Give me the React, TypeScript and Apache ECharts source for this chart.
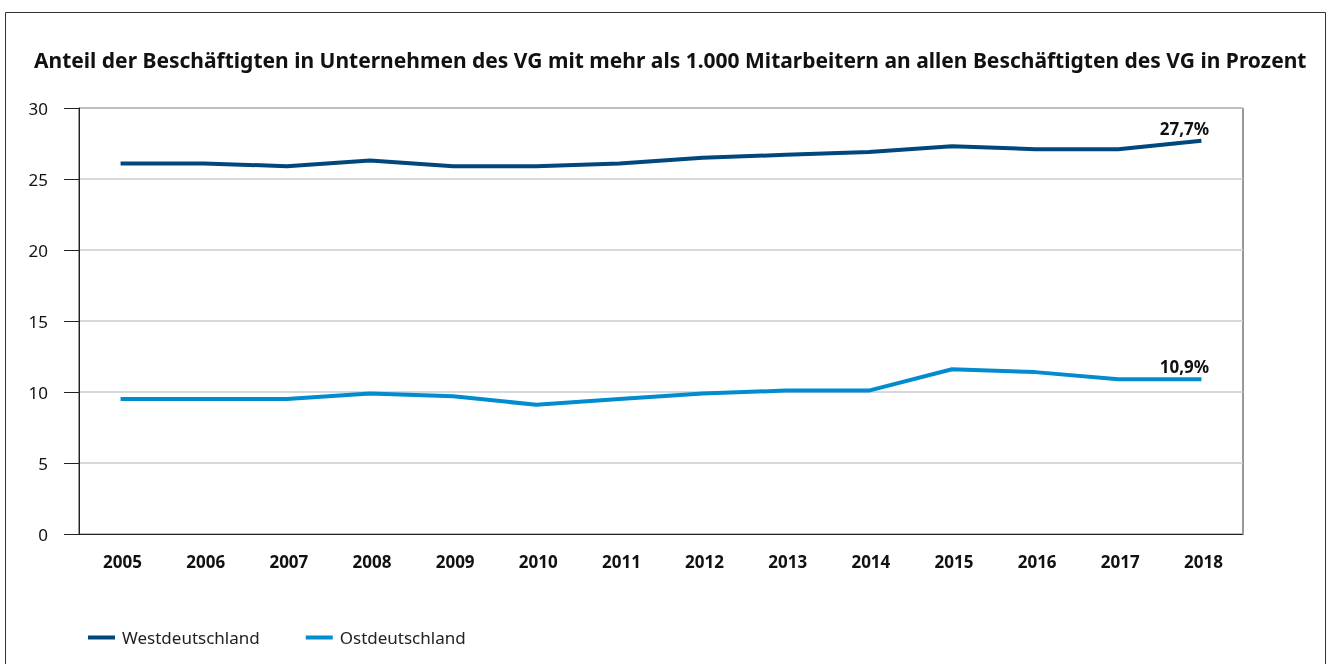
import React, { useEffect, useRef } from "react";
import * as echarts from "echarts";

const years = ["2005","2006","2007","2008","2009","2010","2011","2012","2013","2014","2015","2016","2017","2018"];
const west = [26.1, 26.1, 25.9, 26.3, 25.9, 25.9, 26.1, 26.5, 26.7, 26.9, 27.3, 27.1, 27.1, 27.7];
const ost = [9.5, 9.5, 9.5, 9.9, 9.7, 9.1, 9.5, 9.9, 10.1, 10.1, 11.6, 11.4, 10.9, 10.9];
const westLabel = "27,7%";
const ostLabel = "10,9%";
const titleText = "Anteil der Beschäftigten in Unternehmen des VG mit mehr als 1.000 Mitarbeitern an allen Beschäftigten des VG in Prozent";

const FONT = "'Noto Sans', sans-serif";

function withEndLabel(vals: number[], text: string) {
  return vals.map((v, i) =>
    i === vals.length - 1
      ? {
          value: v,
          label: {
            show: true,
            position: "top",
            distance: 4,
            offset: [-17, 0],
            formatter: text,
            fontFamily: FONT,
            fontWeight: "bold",
            fontSize: 17,
            color: "#111",
          },
        }
      : v
  );
}

export default function App() {
  const ref = useRef<HTMLDivElement>(null);
  useEffect(() => {
    document.body.style.margin = "0";
    const chart = echarts.init(ref.current!, null, { renderer: "svg" });
    chart.setOption({
      animation: false,
      textStyle: { fontFamily: FONT },
      title: {
        text: titleText,
        left: 29,
        top: 44,
        textStyle: { fontFamily: FONT, fontWeight: "bold", fontSize: 21, color: "#111" },
      },
      graphic: [
        {
          type: "rect",
          shape: { x: 5.5, y: 12.5, width: 1320, height: 720 },
          style: { fill: "none", stroke: "#333", lineWidth: 1 },
          silent: true,
        },
      ],
      legend: {
        left: 83,
        top: 624,
        itemWidth: 27,
        itemHeight: 4,
        itemGap: 46,
        icon: "rect",
        textStyle: { fontFamily: FONT, fontSize: 17, color: "#222", padding: [0, 0, 0, 2] },
        data: ["Westdeutschland", "Ostdeutschland"],
      },
      grid: {
        left: 79,
        right: 90,
        top: 108,
        bottom: 664 - 534,
        show: true,
        borderColor: "#333",
        borderWidth: 1,
        containLabel: false,
      },
      xAxis: {
        type: "category",
        data: years,
        boundaryGap: true,
        axisLine: { lineStyle: { color: "#222", width: 1 } },
        axisTick: { show: false },
        axisLabel: {
          fontFamily: FONT,
          fontWeight: "bold",
          fontSize: 17,
          color: "#111",
          margin: 19,
          padding: [0, 0, 0, 4],
        },
      },
      yAxis: {
        type: "value",
        min: 0,
        max: 30,
        interval: 5,
        axisLine: { show: true, lineStyle: { color: "#222", width: 1 } },
        axisTick: { show: true, inside: false, length: 15, lineStyle: { color: "#222" } },
        axisLabel: { fontFamily: FONT, fontSize: 17, color: "#111", margin: 31 },
        splitLine: { show: true, lineStyle: { color: "#c5cdd1", width: 1.5 } },
      },
      series: [
        {
          name: "Westdeutschland",
          type: "line",
          data: withEndLabel(west, westLabel),
          symbol: "circle",
          symbolSize: 0,
          showSymbol: true,
          lineStyle: { color: "#00477d", width: 4 },
          itemStyle: { color: "#00477d" },
        },
        {
          name: "Ostdeutschland",
          type: "line",
          data: withEndLabel(ost, ostLabel),
          symbol: "circle",
          symbolSize: 0,
          showSymbol: true,
          lineStyle: { color: "#008ccf", width: 4 },
          itemStyle: { color: "#008ccf" },
        },
      ],
    });
    return () => chart.dispose();
  }, []);
  return <div ref={ref} style={{ position: "fixed", left: 0, top: 0, width: 1333, height: 664 }} />;
}
